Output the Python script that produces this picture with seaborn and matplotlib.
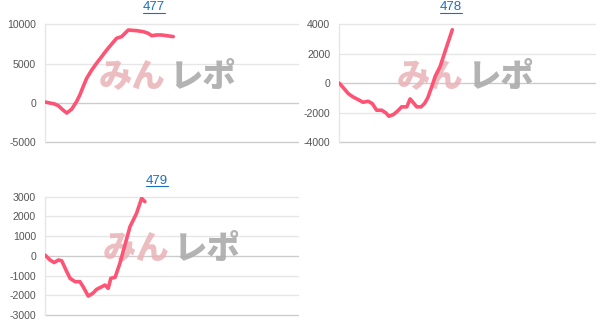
import matplotlib
matplotlib.use("Agg")
import matplotlib.pyplot as plt
from matplotlib.lines import Line2D
import seaborn as sns
import pandas as pd

titles = ["477", "478", "479"]

x477 = [0, 2, 3.6, 5.3, 7, 8.6, 10.6, 12.5, 13.8, 15.1, 16.5, 18.5, 20.4, 22.4,
        24.4, 26.4, 28.3, 30.3, 31.6, 32.9, 36.2, 38.9, 40.8, 42.2, 44.1, 46.1, 48.1, 50.7]
y477 = [100, -40, -130, -380, -890, -1310, -800, 165, 1015, 2070, 3140, 4190, 5040, 5880,
        6730, 7500, 8220, 8430, 8850, 9270, 9190, 9060, 8850, 8550, 8640, 8640, 8550, 8430]

x478 = [0, 2.2, 3.5, 5.4, 7.4, 9.3, 11.3, 12.9, 14.6, 16.6, 18.2, 19.4, 21.1, 22.7,
        24.4, 26.4, 27.7, 29, 30.3, 32, 33.3, 34.6, 36.2, 37.5, 39.4, 40.7, 42, 44.2]
y478 = [0, -440, -710, -940, -1120, -1300, -1230, -1390, -1840, -1840, -2020, -2250, -2140, -1910,
        -1610, -1610, -1070, -1340, -1610, -1610, -1390, -1000, -220, 460, 1120, 1800, 2490, 3630]

x479 = [0, 2, 3.6, 5.3, 6.6, 8.3, 9.9, 11.9, 13.8, 15.1, 17.1, 18.9, 20.4, 22.4,
        23.7, 25, 26, 27.7, 29.6, 31.6, 33.6, 36.2, 38.2, 39.5]
y479 = [40, -210, -340, -210, -250, -720, -1140, -1310, -1310, -1570, -2040, -1900, -1700, -1570,
        -1480, -1650, -1140, -1090, -380, 550, 1480, 2160, 2920, 2750]

yticks477 = [-5000, 0, 5000, 10000]
yticks478 = [-4000, -2000, 0, 2000, 4000]
yticks479 = [-3000, -2000, -1000, 0, 1000, 2000, 3000]

sns.set_style("white")
plt.rcParams['font.family'] = ['Liberation Sans', 'DejaVu Sans']

W, H = 605, 333
fig = plt.figure(figsize=(W / 100, H / 100), dpi=100)

# axes boxes in pixels: left, right, top, bottom
boxes = [(45, 298, 24.3, 142), (339.3, 595, 24.3, 142), (45, 298, 196.7, 315)]
title_pos = [(154, 7.5, 143, 165, 13.2), (451, 7.5, 440, 462, 13.2), (157, 180.5, 146, 168, 186.2)]
wm_pos = [(168, 76), (466, 76), (172, 248)]

datasets = [(x477, y477, yticks477), (x478, y478, yticks478), (x479, y479, yticks479)]
line_color = "#fd5475"
grid_color = "#e6e6e6"

for i, ((xs, ys, yt), (l, r, t, b)) in enumerate(zip(datasets, boxes)):
    ax = fig.add_axes([l / W, 1 - b / H, (r - l) / W, (b - t) / H])
    df = pd.DataFrame({"x": xs, "y": ys})
    sns.lineplot(data=df, x="x", y="y", ax=ax, color=line_color, linewidth=2.6, zorder=5)
    ax.set_xlim(0, 100)
    ax.set_ylim(yt[0], yt[-1])
    ax.set_yticks(yt)
    ax.set_yticklabels([str(v) for v in yt])
    ax.set_xticks([])
    ax.set_xlabel("")
    ax.set_ylabel("")
    for v in yt:
        c = "#cccccc" if v == 0 or v == yt[0] else grid_color
        ax.axhline(v, color=c, linewidth=1, zorder=1, clip_on=False)
    for s in ["top", "right", "bottom"]:
        ax.spines[s].set_visible(False)
    ax.spines["left"].set_color(grid_color)
    ax.spines["left"].set_linewidth(1)
    ax.tick_params(axis="y", length=0, pad=6.5, labelsize=7.6, labelcolor="#555555")
    # watermark
    wx, wy = wm_pos[i]
    ax.text((wx - 2 - l) / (r - l), 1 - (wy - t) / (b - t), "みん",
            transform=ax.transAxes, ha="right", va="center", fontsize=24,
            fontweight="heavy", color="#e9b2b6", alpha=0.85, zorder=2,
            family=["Noto Sans CJK JP", "DejaVu Sans"])
    ax.text((wx + 2 - l) / (r - l), 1 - (wy - t) / (b - t), "レポ",
            transform=ax.transAxes, ha="left", va="center", fontsize=24,
            fontweight="heavy", color="#ababab", alpha=0.9, zorder=2,
            family=["Noto Sans CJK JP", "DejaVu Sans"])
    # title with underline
    tx, ty, ux0, ux1, uy = title_pos[i]
    fig.text(tx / W, 1 - ty / H, titles[i], ha="center", va="center",
             fontsize=9.5, color="#1a6fc4")
    fig.add_artist(Line2D([ux0 / W, ux1 / W], [1 - uy / H, 1 - uy / H],
                          color="#1a6fc4", linewidth=0.8, transform=fig.transFigure))

fig.savefig("out.png", dpi=100)
